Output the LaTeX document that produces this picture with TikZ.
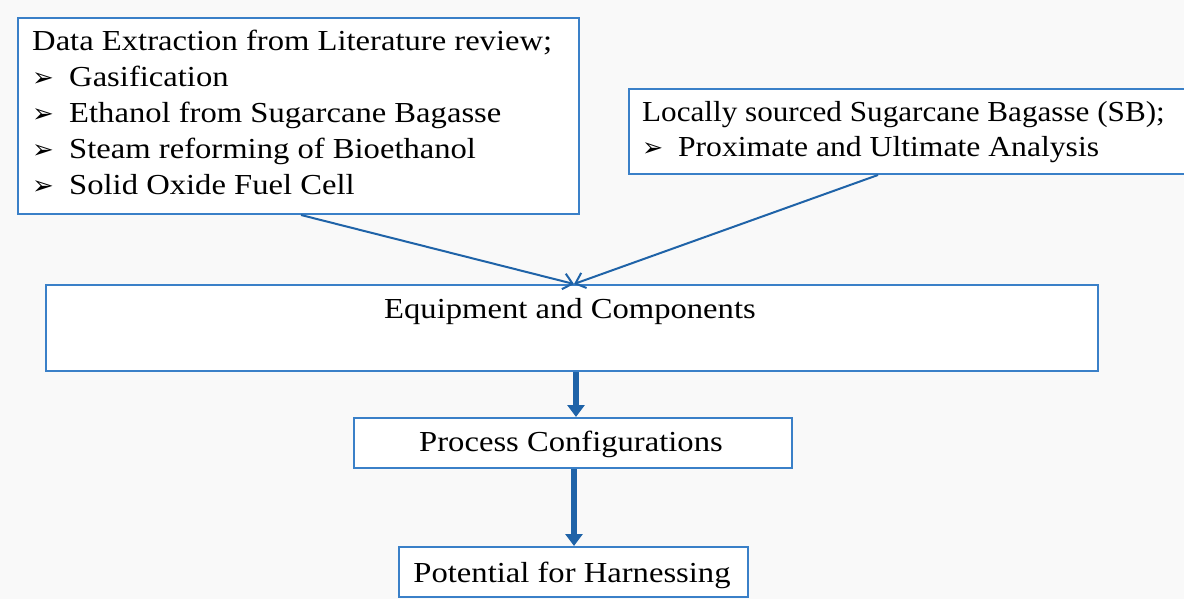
\documentclass[tikz,border=0pt]{standalone}
\usepackage{fontspec}
\setmainfont{Liberation Serif}[FakeStretch=1.125]
\newfontfamily\symfont{DejaVu Sans}
\usetikzlibrary{arrows.meta}
\definecolor{boxblue}{HTML}{3A80C8}
\definecolor{arrblue}{HTML}{1F63A8}
\definecolor{bggray}{HTML}{F9F9F9}
\newcommand{\blt}{\makebox[37pt][l]{\symfont\fontsize{26}{26}\selectfont ➢}}
\begin{document}
\begin{tikzpicture}[x=1pt,y=-1pt,
  box/.style={draw=boxblue, line width=2pt, fill=white, rectangle, inner sep=0pt},
  txt/.style={font=\fontsize{29}{36}\selectfont, inner sep=0pt},
  ln/.style={txt, anchor=base west},
  thin/.style={draw=arrblue, line width=2pt, -{Straight Barb[length=9pt,width=16pt]}},
  thick/.style={draw=arrblue, line width=6pt, -{Triangle[length=12pt,width=17pt]}, shorten >=-1pt}]
\fill[bggray] (0,0) rectangle (1184,599);
\useasboundingbox (0,0) rectangle (1184,599);
% boxes
\node[box, minimum width=561pt, minimum height=196pt, anchor=north west] (A) at (17,17) {};
\node[box, minimum width=560pt, minimum height=85pt, anchor=north west] (B) at (628,88) {};
\node[box, minimum width=1052pt, minimum height=86pt, anchor=north west] (C) at (45,284) {};
\node[box, minimum width=438pt, minimum height=50pt, anchor=north west] (D) at (353,417) {};
\node[box, minimum width=349pt, minimum height=50pt, anchor=north west] (E) at (398,546) {};
% texts
\node[ln] (A1) at (32,51) {Data Extraction from Literature review;};
\node[ln] (A2) at (32,87) {\blt Gasification};
\node[ln] (A3) at (32,123) {\blt Ethanol from Sugarcane Bagasse};
\node[ln] (A4) at (32,159) {\blt Steam reforming of Bioethanol};
\node[ln] (A5) at (32,195) {\blt Solid Oxide Fuel Cell};
\node[ln, transform shape, xscale=0.955] (B1) at (642,122) {Locally sourced Sugarcane Bagasse (SB);};
\node[ln, transform shape, xscale=0.97] (B2) at (642,157) {\blt Proximate and Ultimate Analysis};
\node[txt, anchor=base] (Ct) at (570,318) {Equipment and Components};
\node[txt, anchor=base] (Dt) at (571,451) {Process Configurations};
\node[txt, anchor=base] (Et) at (572,582) {Potential for Harnessing};
% connectors
\coordinate (c1) at ([xshift=2pt]C.north);
\draw[thin] ([xshift=2.5pt]A.south) -- (c1);
\draw[thin] ([xshift=-31pt]B.south) -- (c1);
\draw[thick] ([xshift=4pt]C.south) -- ([xshift=3pt,yshift=1pt]D.north);
\draw[thick] ([xshift=1pt]D.south) -- ([xshift=0.5pt,yshift=1pt]E.north);
\end{tikzpicture}
\end{document}
